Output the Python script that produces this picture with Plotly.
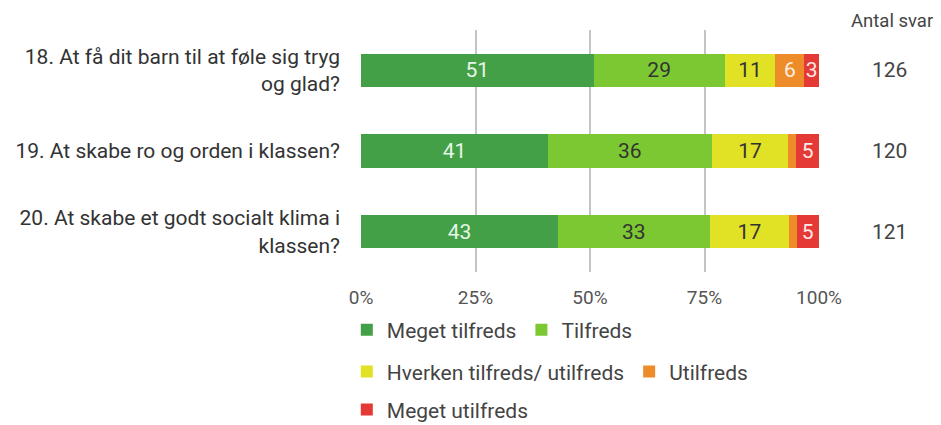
import plotly.graph_objects as go

questions = [
    "18. At få dit barn til at føle sig tryg<br>og glad?",
    "19. At skabe ro og orden i klassen?",
    "20. At skabe et godt socialt klima i<br>klassen?",
]
antal_svar = [126, 120, 121]

categories = ["Meget tilfreds", "Tilfreds", "Hverken tilfreds/ utilfreds", "Utilfreds", "Meget utilfreds"]
colors = ["#43a047", "#7cc832", "#e1e126", "#ee8c2a", "#e53935"]
text_colors = ["#e8f5e8", "#333333", "#333333", "#fdf0e0", "#fde8e8"]

# percentages per answer category (rows = questions 18, 19, 20)
meget_tilfreds = [50.8, 40.8, 43.0]
tilfreds = [28.6, 35.8, 33.1]
hverken = [11.1, 16.7, 17.4]
utilfreds = [6.3, 1.7, 1.6]
meget_utilfreds = [3.2, 5.0, 4.9]
values = [meget_tilfreds, tilfreds, hverken, utilfreds, meget_utilfreds]

legend_ids = ["legend", "legend", "legend2", "legend2", "legend3"]

fig = go.Figure()
for name, vals, col, tcol, lg in zip(categories, values, colors, text_colors, legend_ids):
    labels = [f"{v:.0f}" if v >= 2.5 else "" for v in vals]
    fig.add_trace(go.Bar(
        y=questions, x=vals, orientation="h", name=name,
        marker=dict(color=col, line=dict(width=0)),
        text=labels, textposition="inside", insidetextanchor="middle",
        textfont=dict(color=tcol, size=21, family="Roboto"),
        legend=lg, hoverinfo="skip",
    ))

for q, n in zip(questions, antal_svar):
    fig.add_annotation(x=1.155, xref="paper", xanchor="center", y=q, yref="y", text=str(n),
                       showarrow=False, font=dict(size=21, color="#444", family="Roboto"))
fig.add_annotation(x=1.254, xref="paper", xanchor="right", y=1.037, yref="paper", yanchor="middle",
                   text="Antal svar", showarrow=False, font=dict(size=18.5, color="#444", family="Roboto"))

leg = dict(orientation="h", x=-0.031, xanchor="left", yanchor="middle",
           font=dict(size=21, color="#444", family="Roboto"), bgcolor="rgba(0,0,0,0)",
           traceorder="normal", itemwidth=30)

# page body has an 8px margin, so the figure is shifted up/left by that amount
fig.update_layout(
    barmode="stack", bargap=0.585,
    width=941, height=425,
    margin=dict(l=353, r=130, t=22, b=161, autoexpand=False),
    paper_bgcolor="white", plot_bgcolor="white",
    font=dict(family="Roboto", color="#444"),
    uniformtext=dict(mode="show", minsize=21),
    legend=dict(leg, y=-0.24),
    legend2=dict(leg, y=-0.413),
    legend3=dict(leg, y=-0.57),
)
fig.update_xaxes(range=[0, 100], tickvals=[0, 25, 50, 75, 100],
                 ticktext=["0%", "25%", "50%", "75%", "100%"],
                 showgrid=True, gridcolor="#c4c4c4", gridwidth=2, zeroline=False,
                 tickfont=dict(size=19, color="#555"), ticklabelstandoff=12, fixedrange=True,
                 automargin=False)
fig.update_yaxes(autorange="reversed", showgrid=False, ticklabelstandoff=20, automargin=False,
                 tickfont=dict(size=21, color="#333"))

fig.write_html("out.html")
